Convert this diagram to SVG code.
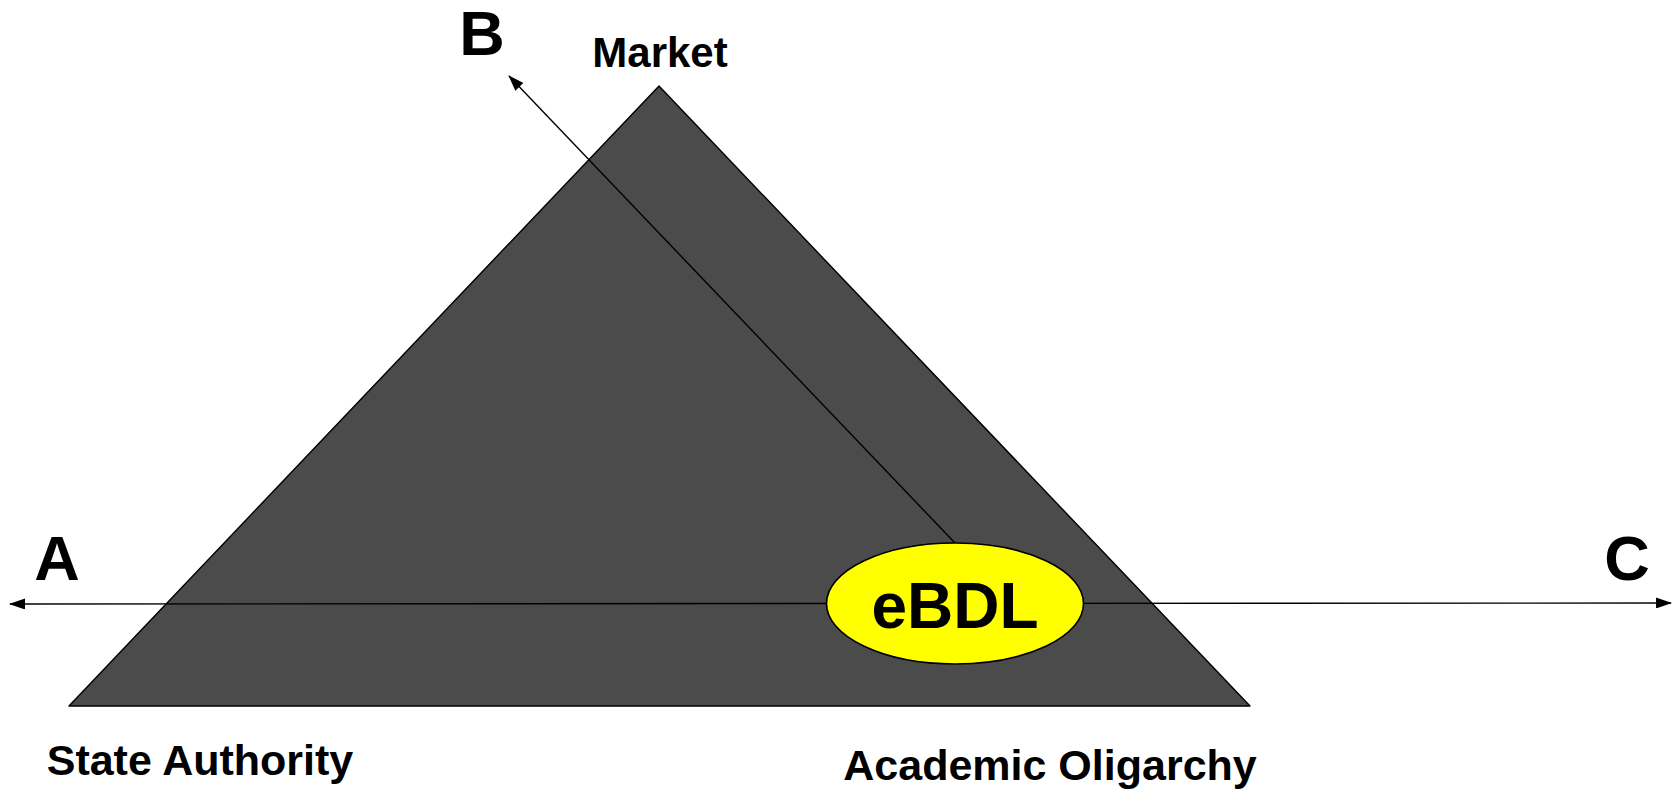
<svg xmlns="http://www.w3.org/2000/svg" width="1680" height="790" viewBox="0 0 1680 790">
<style>
text{font-family:"Liberation Sans",Arial,sans-serif;font-weight:bold;fill:#000;text-anchor:middle}
.big{font-size:63px}
.lbl{font-size:43px}
.ln{stroke:#000;stroke-width:1.4;fill:none}
</style>
<defs>
<marker id="ah" viewBox="0 0 16 11" refX="15" refY="5.5" markerWidth="16" markerHeight="11" markerUnits="userSpaceOnUse" orient="auto-start-reverse">
<path d="M0,0 L16,5.5 L0,11 Z" fill="#000"/>
</marker>
</defs>
<rect width="1680" height="790" fill="#fff"/>
<g id="triangle">
<polygon points="659,86 69,706 1250,706" fill="#4b4b4b" stroke="#000" stroke-width="1.4" stroke-linejoin="round"/>
</g>
<g id="connectors">
<line class="ln" x1="10" y1="604" x2="1671" y2="603" marker-start="url(#ah)" marker-end="url(#ah)"/>
<line class="ln" x1="955" y1="543" x2="509" y2="76" marker-end="url(#ah)"/>
</g>
<g id="ebdl">
<ellipse cx="955" cy="603.5" rx="128.5" ry="60.5" fill="#ffff00" stroke="#000" stroke-width="1.6"/>
<text x="955" y="628" style="font-size:64px">eBDL</text>
</g>
<g id="label-A"><text class="big" x="57" y="580">A</text></g>
<g id="label-B"><text class="big" x="482" y="55">B</text></g>
<g id="label-C"><text class="big" x="1627" y="580">C</text></g>
<g id="label-market"><text x="660" y="67" style="font-size:42px">Market</text></g>
<g id="label-state"><text class="lbl" x="200" y="775">State Authority</text></g>
<g id="label-academic"><text class="lbl" x="1050" y="780">Academic Oligarchy</text></g>
</svg>
